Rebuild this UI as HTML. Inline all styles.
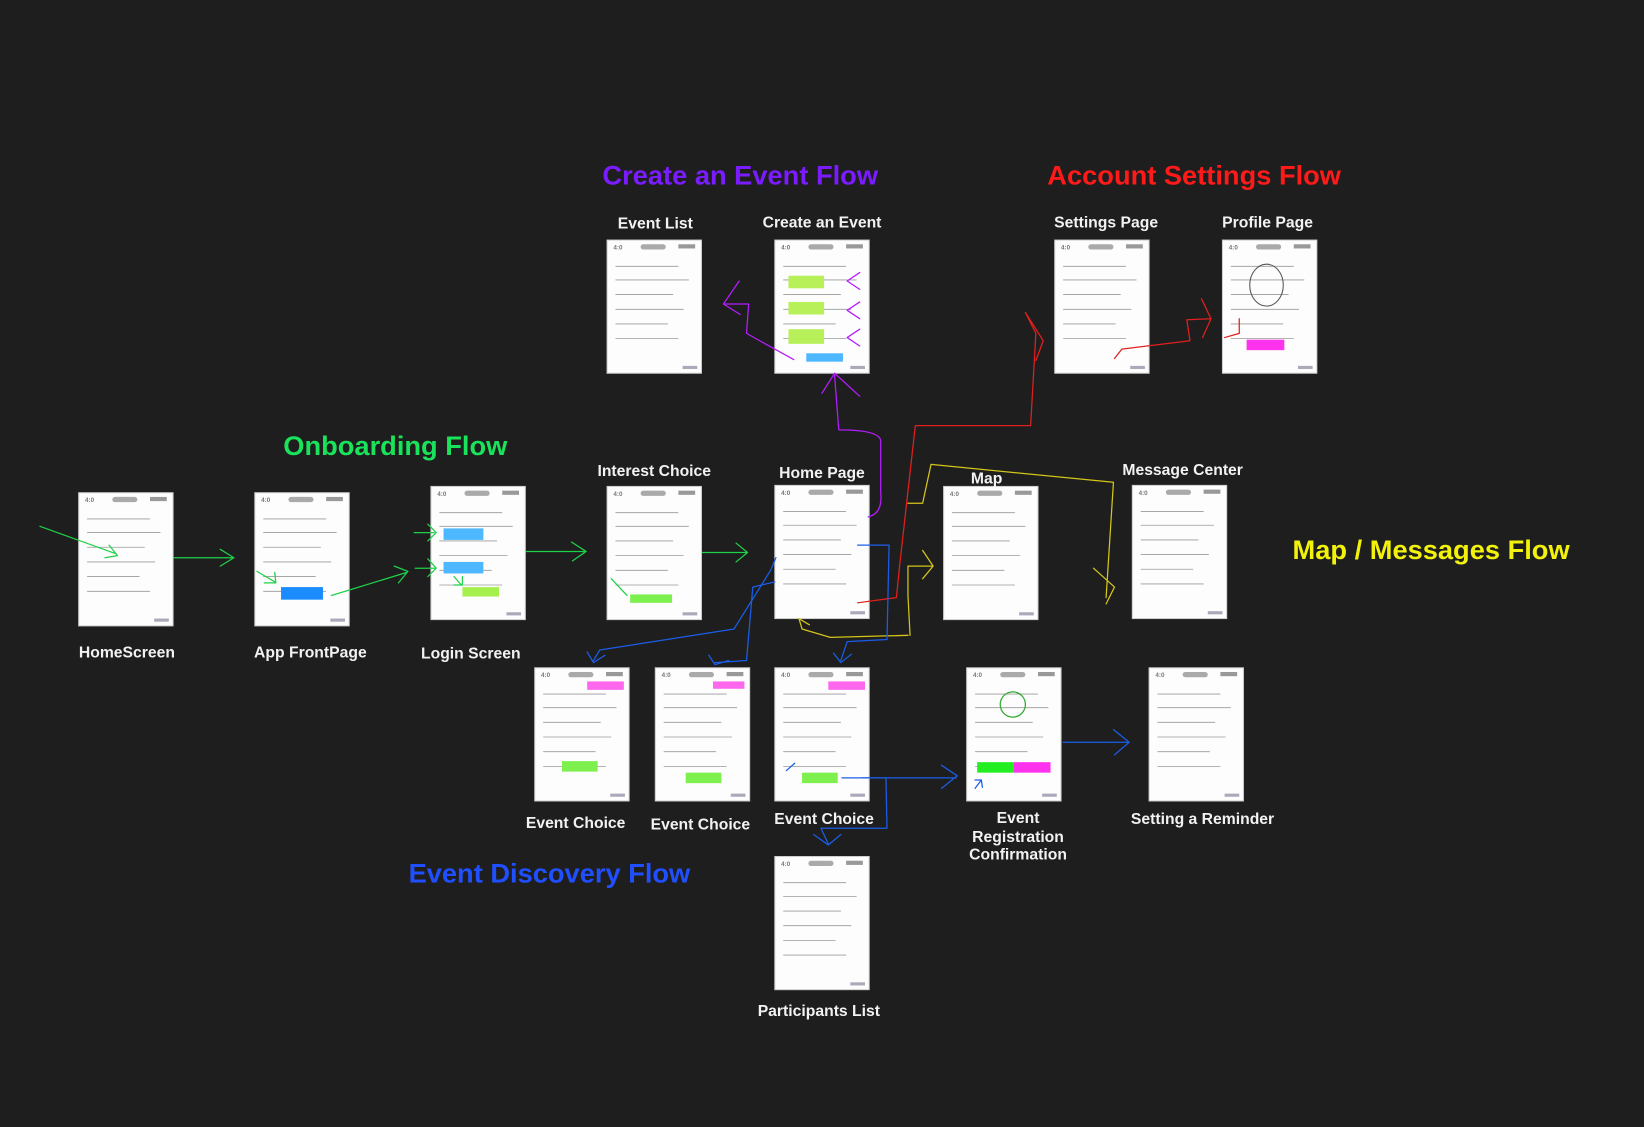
<!DOCTYPE html>
<html><head><meta charset="utf-8"><style>
html,body{margin:0;padding:0;background:#1e1e1e;width:1644px;height:1127px;overflow:hidden}
svg{display:block}
text{font-family:"Liberation Sans",sans-serif;font-weight:bold}
.l{fill:#f2f2f2;font-size:15px;text-anchor:middle}
.t{font-size:26px;text-anchor:middle}
.c{fill:#fdfdfd;stroke:#cfcfcf;stroke-width:1}
.s{stroke:#9a9a9a;stroke-width:0.8;fill:none}
.a{fill:none;stroke-width:1.2;stroke-linejoin:round;stroke-linecap:round}
</style></head><body>
<svg width="1644" height="1127" viewBox="0 0 1568 1075" xmlns="http://www.w3.org/2000/svg">
<rect width="1568" height="1075" fill="#1e1e1e"/>
<defs>
<g id="card">
<rect class="c" x="0" y="0" width="90" height="127"/>
<text x="6" y="9" font-size="6" fill="#777" font-weight="normal">4:0</text>
<rect x="32" y="4" width="24" height="5" rx="2.5" fill="#aaa"/>
<rect x="68" y="4" width="16" height="4" fill="#999"/>
<path class="s" d="M8 25h60M8 38h70M8 52h55M8 66h65M8 80h50M8 94h60"/>
<rect x="72" y="120" width="14" height="3" fill="#aab"/>
</g>
</defs>

<!-- titles -->
<text class="t" x="706" y="176" fill="#7a1cff">Create an Event Flow</text>
<text class="t" x="1139" y="176" fill="#ff1a1a">Account Settings Flow</text>
<text class="t" x="377" y="434" fill="#19e35a">Onboarding Flow</text>
<text class="t" x="1365" y="533" fill="#f2f20a">Map / Messages Flow</text>
<text class="t" x="524" y="842" fill="#1f4fff">Event Discovery Flow</text>

<!-- cards -->
<use href="#card" x="75" y="470"/>
<use href="#card" x="243" y="470"/>
<use href="#card" x="411" y="464"/>
<use href="#card" x="579" y="464"/>
<use href="#card" x="739" y="463"/>
<use href="#card" x="900" y="464"/>
<use href="#card" x="1080" y="463"/>
<use href="#card" x="579" y="229"/>
<use href="#card" x="739" y="229"/>
<use href="#card" x="1006" y="229"/>
<use href="#card" x="1166" y="229"/>
<use href="#card" x="510" y="637"/>
<use href="#card" x="625" y="637"/>
<use href="#card" x="739" y="637"/>
<use href="#card" x="922" y="637"/>
<use href="#card" x="1096" y="637"/>
<use href="#card" x="739" y="817"/>

<!-- colored details inside cards -->
<rect x="268" y="560" width="40" height="12" fill="#1a8cff"/>
<rect x="423" y="504" width="38" height="11" fill="#4db8ff"/>
<rect x="423" y="536" width="38" height="11" fill="#4db8ff"/>
<rect x="441" y="560" width="35" height="9" fill="#a6f04d"/>
<rect x="601" y="567" width="40" height="8" fill="#7ef04d"/>
<rect x="752" y="263" width="34" height="12" fill="#b8f05a"/>
<rect x="752" y="288" width="34" height="12" fill="#b8f05a"/>
<rect x="752" y="314" width="34" height="14" fill="#b8f05a"/>
<rect x="769" y="337" width="35" height="8" fill="#4db8ff"/>
<rect x="1189" y="324" width="36" height="10" fill="#ff33ee"/>
<rect x="560" y="650" width="35" height="8" fill="#ff66ee"/>
<rect x="536" y="726" width="34" height="10" fill="#7ef04d"/>
<rect x="680" y="650" width="30" height="7" fill="#ff66ee"/>
<rect x="654" y="737" width="34" height="10" fill="#7ef04d"/>
<rect x="790" y="650" width="35" height="8" fill="#ff66ee"/>
<rect x="765" y="737" width="34" height="10" fill="#7ef04d"/>
<rect x="932" y="727" width="35" height="10" fill="#22ee22"/>
<rect x="967" y="727" width="35" height="10" fill="#ff33ee"/>
<circle cx="966" cy="672" r="12" fill="none" stroke="#3a3" stroke-width="1.2"/>
<ellipse cx="1208" cy="272" rx="16" ry="20" fill="none" stroke="#555"/>

<!-- labels -->
<text class="l" x="625" y="218">Event List</text>
<text class="l" x="784" y="217">Create an Event</text>
<text class="l" x="1055" y="217">Settings Page</text>
<text class="l" x="1209" y="217">Profile Page</text>
<text class="l" x="624" y="454">Interest Choice</text>
<text class="l" x="784" y="456">Home Page</text>
<text class="l" x="941" y="461">Map</text>
<text class="l" x="1128" y="453">Message Center</text>
<text class="l" x="121" y="627">HomeScreen</text>
<text class="l" x="296" y="627">App FrontPage</text>
<text class="l" x="449" y="628">Login Screen</text>
<text class="l" x="549" y="790">Event Choice</text>
<text class="l" x="668" y="791">Event Choice</text>
<text class="l" x="786" y="786">Event Choice</text>
<text class="l" x="971" y="785">Event</text>
<text class="l" x="971" y="803">Registration</text>
<text class="l" x="971" y="820">Confirmation</text>
<text class="l" x="1147" y="786">Setting a Reminder</text>
<text class="l" x="781" y="969">Participants List</text>

<!-- green arrows -->
<g class="a" stroke="#1fd14a">
<path d="M38 502 L110 528 M104 520 L112 530 L100 532"/>
<path d="M166 532 H222 M210 524 L223 532 L210 540"/>
<path d="M245 545 L262 555 M252 556 L263 556 L262 546"/>
<path d="M316 568 L388 546 M376 540 L389 545 L380 556"/>
<path d="M395 508 H414 M408 500 L416 508 L408 516"/>
<path d="M396 542 H415 M408 533 L416 542 L408 550"/>
<path d="M433 550 L440 558 M433 558 H441 V550"/>
<path d="M502 526 H558 M545 517 L559 526 L546 535"/>
<path d="M583 552 L598 568"/>
<path d="M670 527 H712 M702 518 L713 527 L702 536"/>
</g>

<!-- purple -->
<g class="a" stroke="#b51cff">
<path d="M757 343 L712 318 L714 290 L690 290 L705 268 M690 290 L706 300"/>
<path d="M808 268 L820 260 M808 268 L820 276"/>
<path d="M808 296 L820 288 M808 296 L820 304"/>
<path d="M808 322 L820 314 M808 322 L820 330"/>
<path d="M828 493 Q842 490 840 470 L840 420 Q838 410 800 410 L796 358 M784 375 L796 356 L820 378"/>
</g>

<!-- red -->
<g class="a" stroke="#e0201f">
<path d="M818 575 L855 570 L858 540 L873 406 L983 406 L988 318 L978 298 M978 298 L995 325 L988 344"/>
<path d="M1063 342 L1070 333 L1135 325 L1132 305 L1155 304 L1146 285 M1155 304 L1147 322"/>
<path d="M1168 322 L1182 318 L1182 304"/>
</g>

<!-- yellow -->
<g class="a" stroke="#d4c51a">
<path d="M866 480 L880 480 L888 443 L1062 460 L1055 570 M1043 542 L1063 560 L1055 576"/>
<path d="M868 606 L866 568 L866 540 L890 540 M880 525 L890 540 L880 552"/>
<path d="M866 606 L792 608 L765 600 L762 590 L772 596"/>
</g>

<!-- blue -->
<g class="a" stroke="#1a5ee8">
<path d="M818 520 L848 520 L846 610 L808 612 L802 630 M795 623 L802 632 L812 624"/>
<path d="M740 532 L735 544 L700 600 L572 620 L566 630 M560 622 L566 632 L577 625"/>
<path d="M739 555 L718 560 L712 630 L682 632 M676 625 L682 634 L695 630"/>
<path d="M803 742 L845 742 L846 790 L783 790 L790 805 M776 796 L790 806 L802 796"/>
<path d="M822 742 L912 742 M898 730 L913 740 L898 752"/>
<path d="M930 752 L936 744 M930 744 L936 744 L937 751"/>
<path d="M1014 708 L1076 708 M1062 696 L1077 708 L1063 720"/>
<path d="M750 735 L758 728"/>
</g>
</svg>
</body></html>
